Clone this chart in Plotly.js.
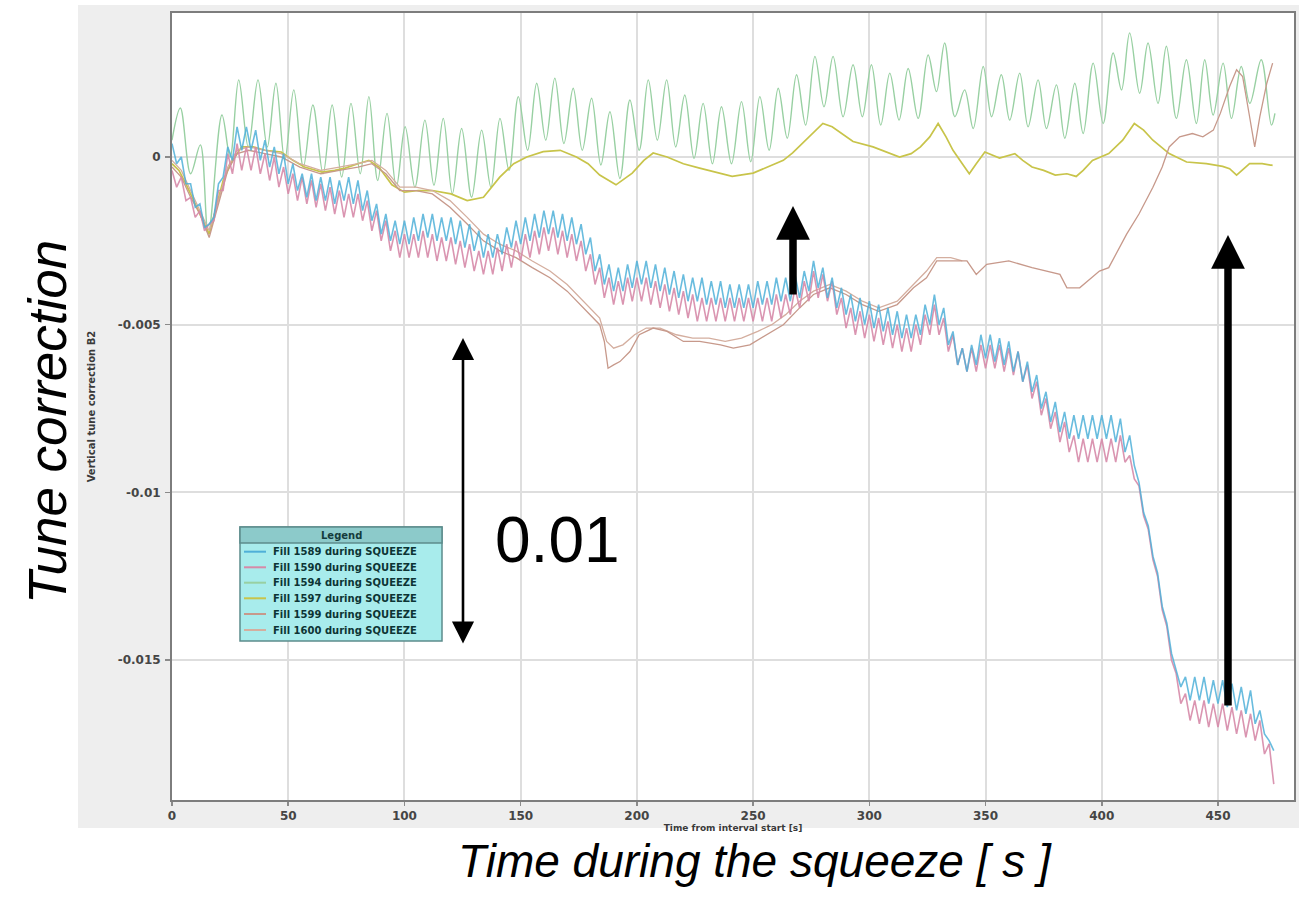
<!DOCTYPE html>
<html>
<head>
<meta charset="utf-8">
<script src="https://cdn.plot.ly/plotly-3.0.1.min.js"></script>
<style>html,body{margin:0;padding:0;background:#fff;}#chart{width:1299px;height:902px;}</style>
</head>
<body>
<div id="chart"></div>
<script>
// ---------- data ----------
const seriesNames = ['Fill 1589 during SQUEEZE','Fill 1590 during SQUEEZE','Fill 1594 during SQUEEZE',
                     'Fill 1597 during SQUEEZE','Fill 1599 during SQUEEZE','Fill 1600 during SQUEEZE'];
const seriesColors = ['#4fb0d8','#d68aa8','#98d0a2','#c8c44a','#c7998b','#d4ae9f'];

// Fill 1589 and 1590: sampled every 2 s starting at t = 0
const fill1589 = [.0004,-.0002,0,-.0008,-.0008,-.0015,-.0014,-.0021,-.002,-.0018,
-.0008,-.0006,.0003,-.0001,.0009,.0002,.0009,.0002,.0008,-.0001,
.0005,-.0003,.0003,-.0005,.0001,-.0008,-.0002,-.001,-.0005,-.0012,
-.0005,-.0013,-.0006,-.0013,-.0006,-.0014,-.0007,-.0013,-.0006,-.0014,
-.0007,-.0016,-.001,-.0019,-.0014,-.0023,-.0017,-.0025,-.0019,-.0026,
-.0019,-.0026,-.0018,-.0025,-.0017,-.0024,-.0017,-.0025,-.0018,-.0025,
-.0018,-.0026,-.0019,-.0027,-.002,-.0028,-.0022,-.003,-.0023,-.003,
-.0023,-.0029,-.0021,-.0027,-.0019,-.0026,-.0018,-.0025,-.0017,-.0024,
-.0016,-.0023,-.0016,-.0024,-.0017,-.0025,-.0018,-.0026,-.002,-.0029,
-.0024,-.0034,-.0029,-.0038,-.0032,-.004,-.0033,-.004,-.0032,-.0039,
-.0031,-.0038,-.0031,-.0039,-.0032,-.004,-.0033,-.0041,-.0034,-.0042,
-.0035,-.0043,-.0036,-.0043,-.0036,-.0044,-.0037,-.0044,-.0037,-.0045,
-.0038,-.0045,-.0038,-.0045,-.0038,-.0045,-.0037,-.0044,-.0037,-.0044,
-.0036,-.0043,-.0036,-.0043,-.0035,-.0042,-.0034,-.004,-.0031,-.0039,
-.0033,-.0042,-.0036,-.0045,-.0039,-.0047,-.0041,-.0049,-.0042,-.005,
-.0043,-.0051,-.0044,-.0052,-.0045,-.0053,-.0046,-.0054,-.0047,-.0054,
-.0047,-.0053,-.0044,-.005,-.0041,-.005,-.0045,-.0056,-.0052,-.0062,
-.0057,-.0064,-.0056,-.0062,-.0053,-.006,-.0053,-.0061,-.0054,-.0062,
-.0055,-.0064,-.0058,-.0067,-.0061,-.007,-.0065,-.0075,-.007,-.0079,
-.0073,-.0082,-.0076,-.0084,-.0077,-.0084,-.0077,-.0084,-.0077,-.0084,
-.0077,-.0084,-.0077,-.0085,-.0078,-.0088,-.0083,-.0092,-.0097,-.0106,
-.011,-.0119,-.0124,-.0134,-.0139,-.0148,-.0153,-.0158,-.0155,-.0162,
-.0155,-.0162,-.0155,-.0163,-.0156,-.0163,-.0156,-.0164,-.0157,-.0165,
-.0158,-.0166,-.0159,-.0169,-.0165,-.0172,-.0174,-.0177];

const fill1590 = [-.0004,-.0009,-.0006,-.0013,-.0012,-.0018,-.0016,-.0022,-.002,-.0019,
-.001,-.001,.0001,-.0005,.0004,-.0004,.0003,-.0004,.0003,-.0005,
.0001,-.0007,0,-.0009,-.0003,-.0011,-.0005,-.0013,-.0006,-.0014,
-.0007,-.0015,-.0008,-.0016,-.0009,-.0017,-.001,-.0018,-.0011,-.0018,
-.0011,-.0019,-.0013,-.0022,-.0016,-.0025,-.0019,-.0028,-.0022,-.003,
-.0023,-.003,-.0023,-.003,-.0022,-.003,-.0023,-.0031,-.0024,-.0031,
-.0024,-.0032,-.0025,-.0033,-.0026,-.0034,-.0028,-.0035,-.0028,-.0035,
-.0027,-.0034,-.0026,-.0033,-.0025,-.0031,-.0023,-.003,-.0022,-.0029,
-.0021,-.0028,-.0021,-.0029,-.0022,-.003,-.0023,-.0031,-.0025,-.0034,
-.0029,-.0038,-.0033,-.0042,-.0036,-.0044,-.0037,-.0044,-.0036,-.0043,
-.0036,-.0043,-.0036,-.0044,-.0037,-.0045,-.0038,-.0046,-.0039,-.0047,
-.004,-.0048,-.0041,-.0049,-.0042,-.0049,-.0042,-.0049,-.0042,-.0049,
-.0042,-.0049,-.0042,-.0049,-.0042,-.0049,-.0042,-.0049,-.0042,-.0049,
-.0041,-.0048,-.0041,-.0047,-.0039,-.0045,-.0037,-.0043,-.0034,-.0042,
-.0035,-.0043,-.0037,-.0047,-.0042,-.0051,-.0045,-.0053,-.0046,-.0054,
-.0047,-.0055,-.0048,-.0056,-.0049,-.0057,-.005,-.0058,-.0051,-.0058,
-.005,-.0056,-.0047,-.0053,-.0044,-.0053,-.0048,-.0058,-.0053,-.0062,
-.0057,-.0064,-.0057,-.0064,-.0056,-.0063,-.0056,-.0063,-.0056,-.0064,
-.0057,-.0065,-.0058,-.0067,-.0062,-.0072,-.0067,-.0077,-.0072,-.0081,
-.0076,-.0085,-.0079,-.0088,-.0083,-.0091,-.0084,-.0091,-.0084,-.0091,
-.0084,-.0091,-.0084,-.0091,-.0083,-.0091,-.0089,-.0096,-.0098,-.0107,
-.0111,-.012,-.0125,-.0135,-.014,-.015,-.0154,-.0163,-.016,-.0168,
-.0162,-.0169,-.0162,-.017,-.0163,-.017,-.0163,-.0171,-.0164,-.0172,
-.0165,-.0173,-.0166,-.0174,-.0168,-.0178,-.0175,-.0187];

// Fill 1594: turning points (time, value)
const t1594 = [0,3.6,8,12.2,15.6,21.5,25,28.7,32.8,37,41,44.7,48.5,52.4,56.5,60.6,65,68.9,73,77,81,84.7,88.5,92.5,96.5,
100.3,104.5,108.8,112.7,116.7,120.6,124.6,128.9,133.2,137.2,141.1,145,149,153,156.9,160.8,164.7,168.6,172.6,176.5,
180.5,184.5,188.4,192.7,197,201,204.9,208.8,212.8,216.7,220.6,224.6,228.5,232.5,236.4,240.7,245,249,252.9,256.9,
260.8,264.7,268.7,272.6,276.6,280.5,284.4,288.7,293,297,300.9,304.9,308.8,312.8,316.7,321,325.3,328.9,332.4,336.8,
341,344.7,349,352.6,356.8,360.4,364.7,368.3,372.6,376.2,380.5,384.1,388.4,392,396.3,400.6,404.9,408.5,412,416.3,
419.9,424.2,427.8,432.1,436.4,440.7,444.3,447.9,452.2,455.8,460,463.7,468.6,473,474.5];
const fill1594 = [.0005,.00146,-.0005,.00036,-.0023,.00125,0,.0023,.0003,.0023,.0003,.0022,-.0001,.002,-.0003,.00155,-.0005,.00155,-.0006,.0016,-.0005,.0018,-.0007,.0013,-.0009,
.0009,-.0009,.0011,-.00084,.00115,-.0011,.00085,-.0012,.0008,-.0009,.00115,-.0004,.0018,.0002,.0022,.0005,.00235,.0004,.00205,.0002,
.00175,-.00024,.00135,-.00064,.0017,.0002,.0023,.0005,.0023,.0003,.00185,-.00004,.0016,-.0002,.0015,-.0002,.00165,-.00014,.0018,.0002,
.00205,.00056,.00245,.00095,.003,.0015,.003,.0012,.00275,.0012,.00275,.00095,.0025,.0011,.00264,.00115,.00304,.00195,.0034,.0012,
.002,.00085,.0027,.0012,.00245,.0011,.0025,.0009,.0023,.00085,.00215,.00056,.0022,.0007,.0028,.001,.0031,.002,.0037,.0019,
.0034,.0016,.0033,.00115,.0029,.001,.0029,.00125,.0028,.00115,.0027,.0016,.0029,.00095,.0013];

// Fill 1597
const t1597 = [0,3,6,10,13,16,19,22,26,30,35,40,47,52,57,64.5,70,74.5,80,84.7,89,94.6,100,106,112,120,127,134,141,147,
152.6,159.7,167,174,179,184,191,198,203,207,213,220,227,236,241,250,258.6,263,267,274,280,284,288,293,301.6,309,313,318,322,326,
329.6,333,336,340,343,346,349.7,356,362.6,366,370,375,380,385,389,392,396,403,409,414,418,422,429,436.5,445,452,455,458,461,463.6,469,473.5];
const fill1597 = [-.0002,-.0004,-.0008,-.0014,-.0019,-.0023,-.0015,-.0007,-.0001,.0003,.0003,.0002,.00015,-.0001,-.0003,-.00045,-.0004,-.00033,-.0002,-.0001,
-.0003,-.00083,-.00105,-.001,-.001,-.0011,-.0013,-.0012,-.0006,-.0002,0,.00016,.0002,0,-.0002,-.00054,-.00083,-.00048,-.0001,.00012,
0,-.0002,-.00033,-.00048,-.00058,-.00048,-.00024,-.0001,.00012,.0006,.001,.0009,.0007,.00046,.0003,.0001,0,.0001,.0003,.0006,
.001,.0006,.0002,-.0002,-.0005,-.0002,.00015,-.00003,.0001,-.0001,-.0003,-.0004,-.00054,-.0005,-.00058,-.0004,-.0001,.0001,.0005,.001,
.0008,.0005,.0001,-.00015,-.0002,-.00028,-.00035,-.00054,-.00035,-.0002,-.0002,-.00025];

// Fill 1599
const t1599 = [0,4,8,12,16,20,24,28,33,40,47,55,64,72,80,86,92,98,105,112,119.6,127,134,141,148,155,162.6,170,177,184,
186,187.6,190,192.7,197,201,207,213,220,227,236,241.5,248.6,256,263,270,276,283,290,297,304,312,319,324.6,329,335,342,346,350.5,360,
370,382,385,390.5,399,403,410.7,416,422,426,429,433.5,439,443.5,448,451,455,458,460.6,463.6,465.8,468,471,473.5];
const fill1599 = [-.0003,-.0006,-.0012,-.0017,-.0024,-.0014,-.0004,.0001,.0002,.0001,0,-.0003,-.0005,-.0004,-.0003,-.0002,-.0005,-.001,-.001,-.0011,
-.0015,-.002,-.0025,-.0028,-.003,-.0033,-.0036,-.004,-.0045,-.005,-.0055,-.0063,-.0062,-.0061,-.0058,-.0053,-.0051,-.0052,-.0055,-.0055,
-.0056,-.0057,-.0056,-.0053,-.005,-.0045,-.0041,-.0039,-.0041,-.0044,-.0046,-.0044,-.0039,-.0036,-.0031,-.0031,-.0031,-.0035,-.0032,-.0031,
-.0033,-.0035,-.0039,-.0039,-.0034,-.0033,-.0023,-.0017,-.0009,-.0003,.0003,.0006,.0007,.0006,.0008,.0013,.0021,.0026,.0024,.0012,
.0003,.0012,.0022,.0028];

// Fill 1600
const t1600 = [0,4,8,12,16,20,24,28,33,40,47,55,64,72,80,86,92,98,105,112,119.6,127,134,141,148,155,162.6,170,177,184,
187,190,194,199,204,210,217,224,231,238,245,252,258,264,270,276,283,290,297,304,312,319,324.6,329,335,340];
const fill1600 = [-.0001,-.0004,-.001,-.0016,-.0022,-.0013,-.0003,.0002,.0003,.0002,.0001,-.0002,-.0004,-.0003,-.0002,-.0001,-.0004,-.0009,-.0009,-.001,
-.0013,-.0018,-.0023,-.0026,-.0028,-.0031,-.0034,-.0038,-.0043,-.0048,-.0055,-.0057,-.0056,-.0053,-.0051,-.0051,-.0053,-.0054,-.0054,-.0055,
-.0054,-.0052,-.005,-.0047,-.0043,-.004,-.0038,-.004,-.0043,-.0045,-.0043,-.0038,-.0034,-.003,-.003,-.0031];

const yTickVals = [-0.015, -0.01, -0.005, 0];
const yTickText = ['-0.015', '-0.01', '-0.005', '0'];

// ---------- layout helpers (pixel -> paper fraction of the plot area) ----------
const L = 172, R = 1294, T = 13, B = 800;
const PX = x => (x - L) / (R - L);
const PY = y => (B - y) / (B - T);

const traces = [
  {x: t1594, y: fill1594, name: seriesNames[2], line: {color: seriesColors[2], width: 1.4, shape: 'spline'}},
  {x: t1597, y: fill1597, name: seriesNames[3], line: {color: seriesColors[3], width: 1.7}},
  {x: t1600, y: fill1600, name: seriesNames[5], line: {color: seriesColors[5], width: 1.3}},
  {x: t1599, y: fill1599, name: seriesNames[4], line: {color: seriesColors[4], width: 1.3}},
  {x0: 0, dx: 2, y: fill1590, name: seriesNames[1], line: {color: seriesColors[1], width: 1.6}, opacity: 0.9},
  {x0: 0, dx: 2, y: fill1589, name: seriesNames[0], line: {color: seriesColors[0], width: 1.6}, opacity: 0.85}
].map(t => Object.assign({type: 'scatter', mode: 'lines', hoverinfo: 'skip'}, t));

const tickFont = {family: 'DejaVu Sans', size: 12, weight: 'bold', color: '#454545'};

const shapes = [
  // grey panel of the original chart window
  {type: 'rect', xref: 'paper', yref: 'paper', layer: 'below', x0: PX(78), x1: PX(1300), y0: PY(828), y1: PY(5),
   fillcolor: '#eeeeee', line: {width: 0}},
  {type: 'rect', xref: 'paper', yref: 'paper', layer: 'below', x0: 0, x1: 1, y0: 0, y1: 1,
   fillcolor: '#ffffff', line: {width: 0}},
  // legend box
  {type: 'rect', xref: 'paper', yref: 'paper', x0: PX(240), x1: PX(442), y0: PY(641), y1: PY(527),
   fillcolor: '#a8ecec', line: {color: '#5c8c8c', width: 1.5}},
  {type: 'rect', xref: 'paper', yref: 'paper', x0: PX(240), x1: PX(442), y0: PY(543), y1: PY(527),
   fillcolor: '#8ccaca', line: {color: '#5c8c8c', width: 1.5}}
];
const legendRows = [551.7, 567.3, 582.7, 598.3, 614, 630];
const annotations = [
  {xref: 'paper', yref: 'paper', x: PX(341), y: PY(535), xanchor: 'center', yanchor: 'middle',
   text: '<b>Legend</b>', showarrow: false, font: {family: 'DejaVu Sans', size: 10, color: '#143c3c'}}
];
legendRows.forEach((yy, i) => {
  shapes.push({type: 'line', xref: 'paper', yref: 'paper', x0: PX(244), x1: PX(266), y0: PY(yy), y1: PY(yy),
               line: {color: seriesColors[i], width: 2}});
  annotations.push({xref: 'paper', yref: 'paper', x: PX(271), y: PY(yy), xanchor: 'left', yanchor: 'middle',
                    text: '<b>' + seriesNames[i] + '</b>', showarrow: false,
                    font: {family: 'DejaVu Sans', size: 10, color: '#0d3434'}});
});

// overlay texts and arrows added on top of the chart
annotations.push(
  {xref: 'paper', yref: 'paper', x: PX(47), y: PY(422), xanchor: 'center', yanchor: 'middle',
   text: '<i>Tune correction</i>', textangle: -90, showarrow: false,
   font: {family: 'Liberation Sans, Arial, sans-serif', size: 53, color: '#000'}},
  {xref: 'paper', yref: 'paper', x: PX(755), y: PY(861), xanchor: 'center', yanchor: 'middle',
   text: '<i>Time during the squeeze [ s ]</i>', showarrow: false,
   font: {family: 'Liberation Sans, Arial, sans-serif', size: 46, color: '#000'}},
  {xref: 'paper', yref: 'paper', x: PX(557), y: PY(540), xanchor: 'center', yanchor: 'middle',
   text: '0.01', showarrow: false,
   font: {family: 'Liberation Sans, Arial, sans-serif', size: 64, color: '#000'}},
  {xref: 'paper', yref: 'paper', x: PX(463), y: PY(338), ax: 0, ay: 307, text: '', showarrow: true,
   arrowside: 'end+start', arrowhead: 2, startarrowhead: 2, arrowsize: 1.7, startarrowsize: 1.7,
   arrowwidth: 2.6, arrowcolor: '#000'},
  {xref: 'paper', yref: 'paper', x: PX(793), y: PY(206), ax: 0, ay: 90, text: '', showarrow: true,
   arrowhead: 2, arrowsize: 0.9, arrowwidth: 7.5, arrowcolor: '#000'},
  {xref: 'paper', yref: 'paper', x: PX(1228), y: PY(235), ax: 0, ay: 472, text: '', showarrow: true,
   arrowhead: 2, arrowsize: 0.9, arrowwidth: 7.5, arrowcolor: '#000'}
);

const layout = {
  width: 1299, height: 902,
  margin: {l: L, r: 1299 - R, t: T, b: 902 - B},
  paper_bgcolor: '#ffffff', plot_bgcolor: '#ffffff',
  showlegend: false,
  font: {family: 'DejaVu Sans', size: 11, color: '#454545'},
  xaxis: {
    range: [0, 482.7], tick0: 0, dtick: 50,
    showgrid: true, gridcolor: '#dedede', gridwidth: 2, zeroline: false,
    showline: true, linecolor: '#7d7d7d', linewidth: 2, mirror: true,
    ticks: 'outside', ticklen: 4, tickwidth: 1.5, tickcolor: '#8a8a8a',
    tickfont: tickFont, ticklabelstandoff: 0,
    title: {text: 'Time from interval start [s]', standoff: 1,
            font: {family: 'DejaVu Sans', size: 9, weight: 'bold', color: '#3a3a3a'}}
  },
  yaxis: {
    range: [-0.019171, 0.004293], tickvals: yTickVals, ticktext: yTickText,
    showgrid: true, gridcolor: '#dedede', gridwidth: 2, zeroline: false,
    showline: true, linecolor: '#7d7d7d', linewidth: 2, mirror: true,
    ticks: 'outside', ticklen: 5, tickwidth: 1.5, tickcolor: '#8a8a8a',
    tickfont: tickFont, ticklabelstandoff: 2,
    title: {text: 'Vertical tune correction B2', standoff: 20,
            font: {family: 'DejaVu Sans', size: 10, weight: 'bold', color: '#3a3a3a'}}
  },
  shapes: shapes,
  annotations: annotations
};

Plotly.newPlot('chart', traces, layout, {displayModeBar: false, staticPlot: true});
</script>
</body>
</html>
